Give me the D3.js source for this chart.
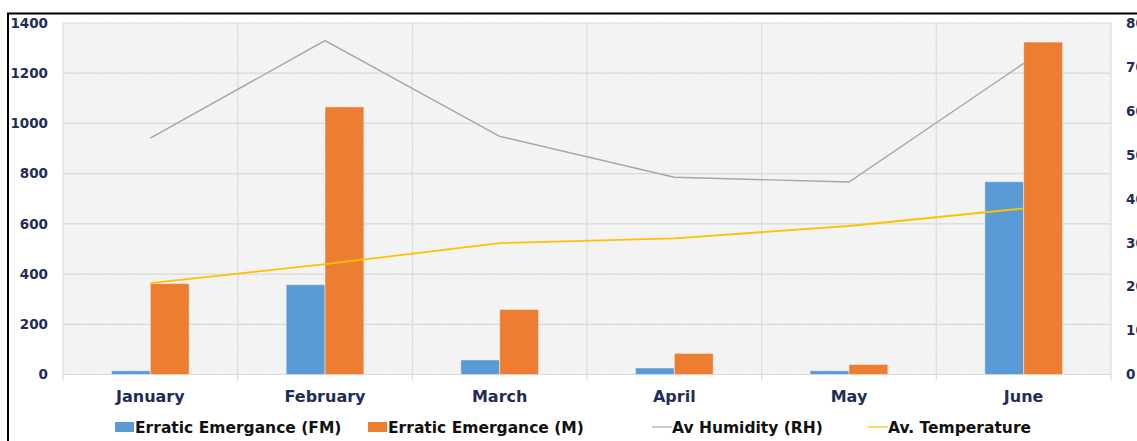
<!DOCTYPE html>
<html>
<head>
<meta charset="utf-8">
<script src="https://cdn.jsdelivr.net/npm/d3@7"></script>
<style>
  html, body { margin: 0; padding: 0; background: #fff; }
  svg { display: block; }
  .tick text { font-family: "DejaVu Sans", Verdana, sans-serif; font-weight: bold; }
</style>
</head>
<body>
<svg id="chart" width="1137" height="441"></svg>
<script>
// Monthly emergence counts (bars, left axis) and climate readings (lines, right axis)
const months = ["January", "February", "March", "April", "May", "June"];
const emergenceFM = [15, 358, 58, 26, 15, 768];
const emergenceM = [362, 1066, 259, 84, 40, 1324];
const humidityRH = [53.8, 76, 54.2, 44.9, 43.8, 70.8];
const temperature = [20.8, 25.1, 29.9, 31, 33.8, 37.8];
const leftTicks = [0, 200, 400, 600, 800, 1000, 1200, 1400];
const rightTicks = [0, 10, 20, 30, 40, 50, 60, 70, 80];

const barSeries = [
  { name: "Erratic Emergance (FM)", values: emergenceFM, color: "#5B9BD5" },
  { name: "Erratic Emergance (M)", values: emergenceM, color: "#ED7D31" }
];
const lineSeries = [
  { name: "Av Humidity (RH)", values: humidityRH, color: "#A5A5A5" },
  { name: "Av. Temperature", values: temperature, color: "#FFC000" }
];

const svg = d3.select("#chart");
const plot = { left: 63, right: 1111, top: 23, bottom: 374.5 };
const axisColor = "#1F2D5A";

// Frame around the chart
svg.append("path")
  .attr("d", `M8,441 L8,13.5 L1137,13.5`)
  .attr("fill", "none").attr("stroke", "#000").attr("stroke-width", 2);

// Faint woven texture for the plot area
const defs = svg.append("defs");
const pat = defs.append("pattern").attr("id", "tex")
  .attr("width", 6).attr("height", 6).attr("patternUnits", "userSpaceOnUse");
pat.append("rect").attr("width", 6).attr("height", 6).attr("fill", "#f3f3f3");
[[0,0,"#f8f8f8"],[1,1,"#efefef"],[2,2,"#f8f8f8"],[3,3,"#efefef"],[4,4,"#f8f8f8"],[5,5,"#efefef"],
 [3,0,"#f0f0f0"],[0,3,"#f7f7f7"],[5,2,"#f0f0f0"],[2,5,"#f7f7f7"]]
  .forEach(([px, py, c]) => pat.append("rect").attr("x", px).attr("y", py)
    .attr("width", 1).attr("height", 1).attr("fill", c));

svg.append("rect")
  .attr("x", plot.left).attr("y", plot.top)
  .attr("width", plot.right - plot.left).attr("height", plot.bottom - plot.top)
  .attr("fill", "url(#tex)");

// Scales
const x0 = d3.scaleBand().domain(months).range([plot.left, plot.right]).padding(0);
const clusterWidth = x0.bandwidth() * 0.445;
const x1 = d3.scaleBand().domain(barSeries.map(d => d.name))
  .range([-clusterWidth / 2, clusterWidth / 2]).padding(0);
const yLeft = d3.scaleLinear().domain([0, 1400]).range([plot.bottom, plot.top]);
const yRight = d3.scaleLinear().domain([0, 80]).range([plot.bottom, plot.top]);

// Horizontal gridlines
svg.append("g").selectAll("line").data(leftTicks).join("line")
  .attr("x1", plot.left).attr("x2", plot.right)
  .attr("y1", d => yLeft(d)).attr("y2", d => yLeft(d))
  .attr("stroke", "#d9d9d9").attr("stroke-width", 1.2);

// Vertical gridlines at category boundaries
const bounds = months.map(m => x0(m)).concat([x0(months[months.length - 1]) + x0.bandwidth()]);
svg.append("g").selectAll("line").data(bounds).join("line")
  .attr("x1", d => d).attr("x2", d => d)
  .attr("y1", plot.top).attr("y2", plot.bottom + 6)
  .attr("stroke", "#dcdcdc").attr("stroke-width", 1.2);

// Left axis
const gLeft = svg.append("g").attr("transform", `translate(48,0)`)
  .call(d3.axisLeft(yLeft).tickValues(leftTicks).tickSize(0).tickPadding(0).tickFormat(d3.format("d")));
gLeft.select(".domain").remove();
gLeft.selectAll("text").attr("fill", axisColor).attr("font-size", 13.5);

// Right axis
const gRight = svg.append("g").attr("transform", `translate(1126,0)`)
  .call(d3.axisRight(yRight).tickValues(rightTicks).tickSize(0).tickPadding(0).tickFormat(d3.format("d")));
gRight.select(".domain").remove();
gRight.selectAll("text").attr("fill", axisColor).attr("font-size", 13.5);

// Category axis
const gBottom = svg.append("g").attr("transform", `translate(0,${plot.bottom})`)
  .call(d3.axisBottom(x0).tickSize(0).tickPadding(16));
gBottom.select(".domain").remove();
gBottom.selectAll("text").attr("fill", axisColor).attr("font-size", 16);

// Bars
const barGroups = svg.append("g").selectAll("g").data(months).join("g")
  .attr("transform", m => `translate(${x0(m) + x0.bandwidth() / 2},0)`);
barGroups.selectAll("rect")
  .data((m, i) => barSeries.map(s => ({ name: s.name, color: s.color, value: s.values[i] })))
  .join("rect")
  .attr("x", d => x1(d.name))
  .attr("width", x1.bandwidth())
  .attr("y", d => yLeft(d.value))
  .attr("height", d => yLeft(0) - yLeft(d.value))
  .attr("fill", d => d.color)
  .attr("stroke", "rgba(255,255,255,0.45)").attr("stroke-width", 1);

// Lines on the secondary axis
const line = d3.line()
  .x((d, i) => x0(months[i]) + x0.bandwidth() / 2)
  .y(d => yRight(d));
svg.append("g").selectAll("path").data(lineSeries).join("path")
  .attr("d", s => line(s.values))
  .attr("fill", "none")
  .attr("stroke", s => s.color)
  .attr("stroke-width", s => s.name === "Av. Temperature" ? 1.8 : 1.4);

// Legend
const legendFont = { family: "DejaVu Sans, Verdana, sans-serif", size: 15.5 };
const legendItems = [
  { name: barSeries[0].name, color: barSeries[0].color, kind: "rect", x: 115 },
  { name: barSeries[1].name, color: barSeries[1].color, kind: "rect", x: 368 },
  { name: lineSeries[0].name, color: lineSeries[0].color, kind: "line", x: 652 },
  { name: lineSeries[1].name, color: lineSeries[1].color, kind: "line", x: 868 }
];
const legend = svg.append("g").attr("transform", "translate(0,427)");
legendItems.forEach(it => {
  const g = legend.append("g").attr("transform", `translate(${it.x},0)`);
  if (it.kind === "rect") {
    g.append("rect").attr("x", 0).attr("y", -5).attr("width", 19).attr("height", 10).attr("fill", it.color);
  } else {
    g.append("line").attr("x1", 0).attr("x2", 20).attr("y1", 0).attr("y2", 0)
      .attr("stroke", it.color).attr("stroke-width", 1.2);
  }
  g.append("text").attr("x", 20).attr("y", 0).attr("dy", "0.36em")
    .attr("font-family", legendFont.family).attr("font-weight", "bold")
    .attr("font-size", legendFont.size).attr("fill", "#111")
    .text(it.name);
});
</script>
</body>
</html>
